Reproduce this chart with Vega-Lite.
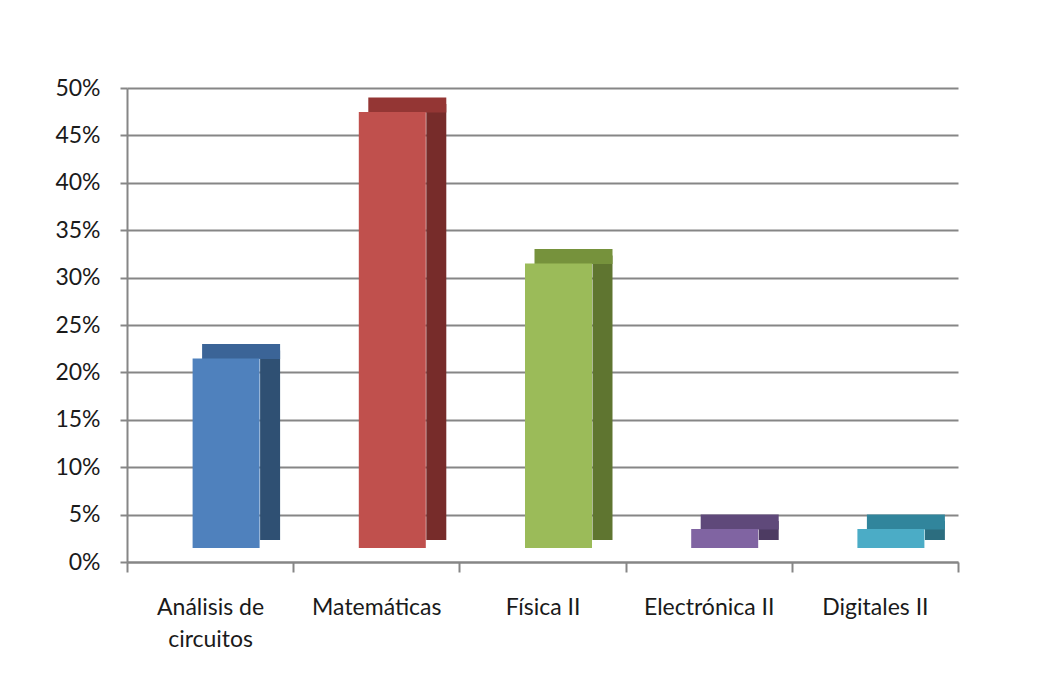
{
  "$schema": "https://vega.github.io/schema/vega-lite/v6.json",
  "autosize": {"type": "none"},
  "padding": {"left": 127, "top": 88, "right": 98, "bottom": 117},
  "width": 831,
  "height": 474,
  "background": "white",
  "config": {
    "view": {"stroke": null},
    "font": "Lato",
    "axis": {"labelFont": "Lato", "labelFontSize": 23, "labelColor": "#1a1a1a"}
  },
  "data": {
    "values": [
      {"asignatura": "Análisis de circuitos", "porcentaje": 0.20},
      {"asignatura": "Matemáticas", "porcentaje": 0.46},
      {"asignatura": "Física II", "porcentaje": 0.30},
      {"asignatura": "Electrónica II", "porcentaje": 0.02},
      {"asignatura": "Digitales II", "porcentaje": 0.02}
    ]
  },
  "encoding": {
    "x": {
      "field": "asignatura",
      "type": "nominal",
      "sort": null,
      "scale": {"paddingInner": 0, "paddingOuter": 0},
      "axis": {
        "title": null,
        "labelAngle": 0,
        "tickBand": "extent",
        "tickSize": 10,
        "tickColor": "#868686",
        "tickWidth": 2,
        "domainColor": "#868686",
        "domainWidth": 2,
        "labelPadding": 24,
        "labelLineHeight": 32,
        "labelExpr": "datum.label == 'Análisis de circuitos' ? ['Análisis de', 'circuitos'] : datum.label"
      }
    },
    "y": {
      "field": "porcentaje",
      "type": "quantitative",
      "scale": {"domain": [0, 0.5]},
      "axis": {
        "title": null,
        "values": [0, 0.05, 0.1, 0.15, 0.2, 0.25, 0.3, 0.35, 0.4, 0.45, 0.5],
        "format": ".0%",
        "grid": true,
        "gridColor": "#868686",
        "gridWidth": 2,
        "tickColor": "#868686",
        "tickWidth": 2,
        "tickSize": 7,
        "domainColor": "#868686",
        "domainWidth": 2,
        "labelPadding": 20
      }
    }
  },
  "layer": [
    {
      "mark": {"type": "bar", "width": 20, "xOffset": 60, "yOffset": -22},
      "encoding": {
        "color": {
          "field": "asignatura",
          "type": "nominal",
          "sort": null,
          "scale": {
            "domain": ["Análisis de circuitos", "Matemáticas", "Física II", "Electrónica II", "Digitales II"],
            "range": ["#2F5073", "#772C2A", "#5F7530", "#4D3B62", "#2C6D7F"]
          },
          "legend": null
        }
      }
    },
    {
      "mark": {"type": "tick", "orient": "horizontal", "thickness": 15, "size": 78, "xOffset": 31, "yOffset": -21, "opacity": 1},
      "encoding": {
        "color": {
          "field": "asignatura",
          "type": "nominal",
          "sort": null,
          "scale": {
            "domain": ["Análisis de circuitos", "Matemáticas", "Física II", "Electrónica II", "Digitales II"],
            "range": ["#3B6497", "#943634", "#76923C", "#5F497A", "#31859C"]
          },
          "legend": null
        }
      }
    },
    {
      "mark": {"type": "bar", "width": 67, "xOffset": 16, "yOffset": -14},
      "encoding": {
        "color": {
          "field": "asignatura",
          "type": "nominal",
          "sort": null,
          "scale": {
            "domain": ["Análisis de circuitos", "Matemáticas", "Física II", "Electrónica II", "Digitales II"],
            "range": ["#4F81BD", "#C0504D", "#9BBB59", "#8064A2", "#4BACC6"]
          },
          "legend": null
        }
      }
    }
  ],
  "resolve": {"scale": {"color": "independent"}}
}
